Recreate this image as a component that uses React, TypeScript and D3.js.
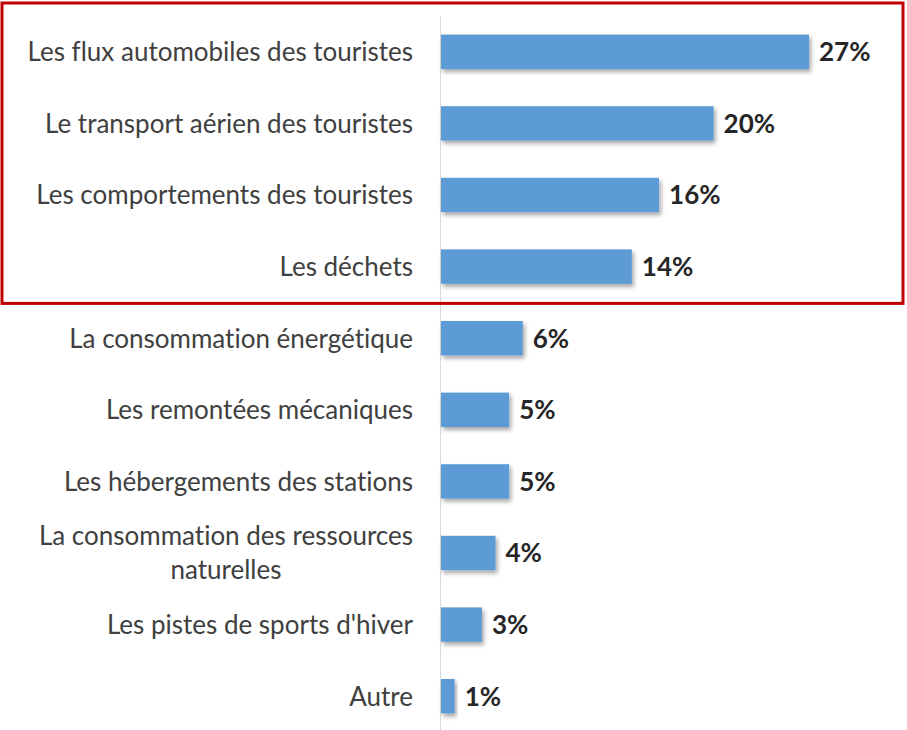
import React, { useEffect, useRef } from "react";
import * as d3 from "d3";

const categories = [
  ["Les flux automobiles des touristes"],
  ["Le transport aérien des touristes"],
  ["Les comportements des touristes"],
  ["Les déchets"],
  ["La consommation énergétique"],
  ["Les remontées mécaniques"],
  ["Les hébergements des stations"],
  ["La consommation des ressources", "naturelles"],
  ["Les pistes de sports d'hiver"],
  ["Autre"],
];
const values = [27, 20, 16, 14, 6, 5, 5, 4, 3, 1];
const highlighted = 4; // the first four rows sit in the red frame

const W = 907;
const H = 730;
const FONT = "Lato, 'Open Sans', sans-serif";

export default function App() {
  const ref = useRef<SVGSVGElement | null>(null);

  useEffect(() => {
    const svg = d3.select(ref.current);
    svg.selectAll("*").remove();

    const x0 = 441;
    const x = d3.scaleLinear().domain([0, 27]).range([x0, 809]);
    const idx = values.map((_, i) => i);
    const y = d3.scaleBand<number>().domain(idx).range([16, 732]).paddingInner(0.52).paddingOuter(0.26);

    const defs = svg.append("defs");
    const f = defs.append("filter").attr("id", "shadow").attr("x", "-20%").attr("y", "-30%").attr("width", "140%").attr("height", "180%");
    f.append("feDropShadow").attr("dx", 2).attr("dy", 3).attr("stdDeviation", 2).attr("flood-color", "#000").attr("flood-opacity", 0.35);

    // axis line
    svg.append("line")
      .attr("x1", x0 - 0.5).attr("x2", x0 - 0.5)
      .attr("y1", 16).attr("y2", H)
      .attr("stroke", "#d9d9d9").attr("stroke-width", 1);

    svg.append("g").selectAll("rect").data(values).join("rect")
      .attr("x", x0)
      .attr("y", (_, i) => y(i)!)
      .attr("width", (d) => x(d) - x0)
      .attr("height", y.bandwidth())
      .attr("fill", "#5b9bd5")
      .attr("filter", "url(#shadow)");

    svg.append("g").selectAll("text").data(values).join("text")
      .attr("x", (d) => x(d) + 10)
      .attr("y", (_, i) => y(i)! + y.bandwidth() / 2)
      .attr("dy", "0.36em")
      .attr("font-family", FONT)
      .attr("font-size", 26)
      .attr("font-weight", "bold")
      .attr("fill", "#262626")
      .text((d) => d + "%");

    const lab = svg.append("g");
    categories.forEach((lines, i) => {
      const cy = y(i)! + y.bandwidth() / 2;
      const lh = 34;
      const t = lab.append("text")
        .attr("font-family", FONT)
        .attr("font-size", 26)
        .style("font-variant-ligatures", "none")
        .attr("fill", "#404040");
      const spans = lines.map((ln, k) =>
        t.append("tspan")
          .attr("x", 413)
          .attr("y", cy + (k - (lines.length - 1) / 2) * lh)
          .attr("dy", "0.36em")
          .attr("text-anchor", "end")
          .text(ln)
      );
      if (lines.length > 1) {
        const widths = spans.map((s) => (s.node() as SVGTSpanElement).getComputedTextLength());
        const mw = Math.max(...widths);
        spans.forEach((s) => s.attr("x", 413 - mw / 2).attr("text-anchor", "middle"));
      }
    });

    // red highlight frame
    const bottom = y(highlighted - 1)! + y.bandwidth() + (y.step() - y.bandwidth()) / 2 + 1;
    svg.append("rect")
      .attr("x", 2).attr("y", 3)
      .attr("width", W - 6).attr("height", bottom - 3)
      .attr("fill", "none")
      .attr("stroke", "#c00000")
      .attr("stroke-width", 3);
  }, []);

  return (
    <svg ref={ref} width={W} height={H} viewBox={`0 0 ${W} ${H}`}
      style={{ position: "absolute", left: 0, top: 0, background: "#fff" }} />
  );
}
